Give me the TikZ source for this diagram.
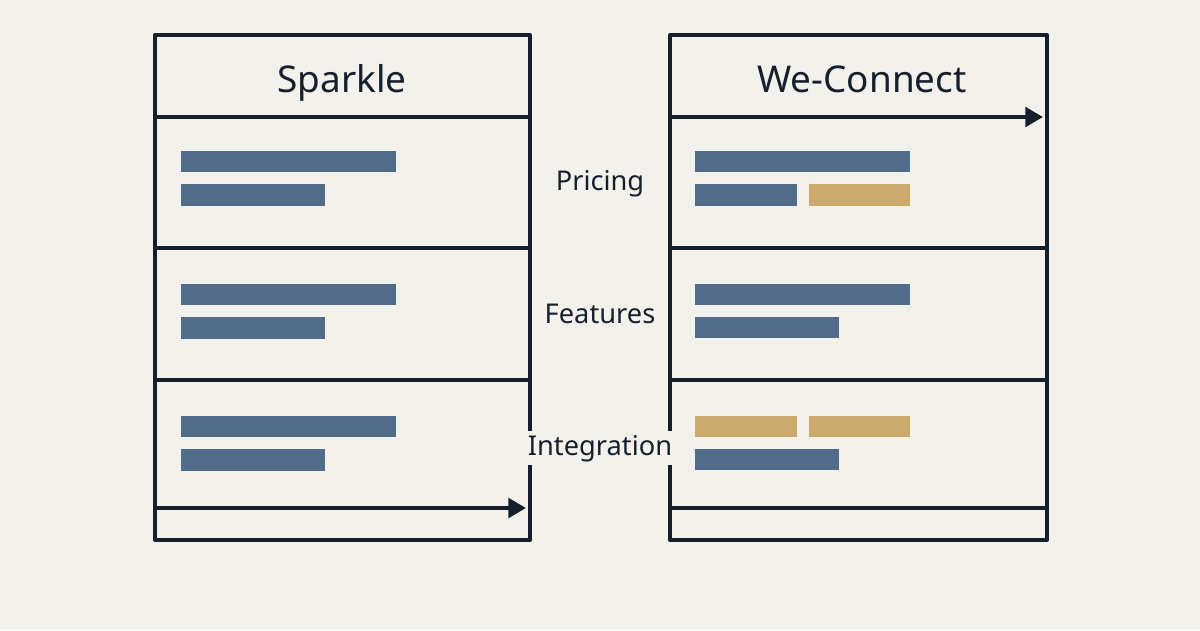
\documentclass[tikz,border=0pt]{standalone}
\usepackage{fontspec}
\setmainfont{Noto Sans}
\usetikzlibrary{arrows.meta,positioning}
\definecolor{Fondo}{HTML}{F3F1EC}
\definecolor{Tinta}{HTML}{16202C}
\definecolor{Azul}{HTML}{526B88}
\definecolor{Oro}{HTML}{CCAA6D}

\begin{document}
\begin{tikzpicture}[
  x=0.02cm,y=-0.02cm,
  every node/.style={text=Tinta},
  marco/.style={line width=2.3pt,draw=Tinta,line join=round},
  flecha/.style={-{Triangle[length=10pt,width=11pt]},line width=2.3pt,draw=Tinta},
  titulo/.style={anchor=base,font=\fontsize{21}{24}\selectfont},
  etiqueta/.style={anchor=base,font=\fontsize{15.5}{18}\selectfont,
    fill=Fondo,inner sep=2pt},
  azul/.style={fill=Azul},
  oro/.style={fill=Oro}
]
  \fill[Fondo] (0,0) rectangle (1200,630);

  % Sparkle
  \draw[marco] (155,35) rectangle (530,540);
  \draw[marco] (155,117) -- (530,117);
  \draw[marco] (155,248) -- (530,248);
  \draw[marco] (155,380) -- (530,380);
  \node[titulo] (sparkle) at (342,92) {Sparkle};
  \foreach \dy in {0,133,265} {
    \fill[azul] (181,151+\dy) rectangle (396,172+\dy);
    \fill[azul] (181,184+\dy) rectangle (325,206+\dy);
  }
  \coordinate (sparkIni) at (157,508);
  \coordinate (sparkFin) at (526,508);
  \draw[flecha] (sparkIni) -- (sparkFin);

  % We-Connect
  \draw[marco] (670,35) rectangle (1047,540);
  \draw[marco] (670,248) -- (1047,248);
  \draw[marco] (670,380) -- (1047,380);
  \draw[marco] (670,508) -- (1047,508);
  \node[titulo] (weconnect) at (862,92) {We-Connect};
  \coordinate (weIni) at (670,117);
  \coordinate (weFin) at (1043,117);
  \draw[flecha] (weIni) -- (weFin);
  \fill[azul] (695,151) rectangle (910,172);
  \fill[azul] (695,184) rectangle (797,206);
  \fill[oro]  (809,184) rectangle (910,206);
  \fill[azul] (695,284) rectangle (910,305);
  \fill[azul] (695,317) rectangle (839,338);
  \fill[oro]  (695,416) rectangle (797,437);
  \fill[oro]  (809,416) rectangle (910,437);
  \fill[azul] (695,449) rectangle (839,470);

  % criterios
  \node[etiqueta] (pricing) at (600,190) {Pricing};
  \node[etiqueta] (features) at (600,323) {Features};
  \node[etiqueta] (integration) at (600,455) {Integration};
\end{tikzpicture}
\end{document}
